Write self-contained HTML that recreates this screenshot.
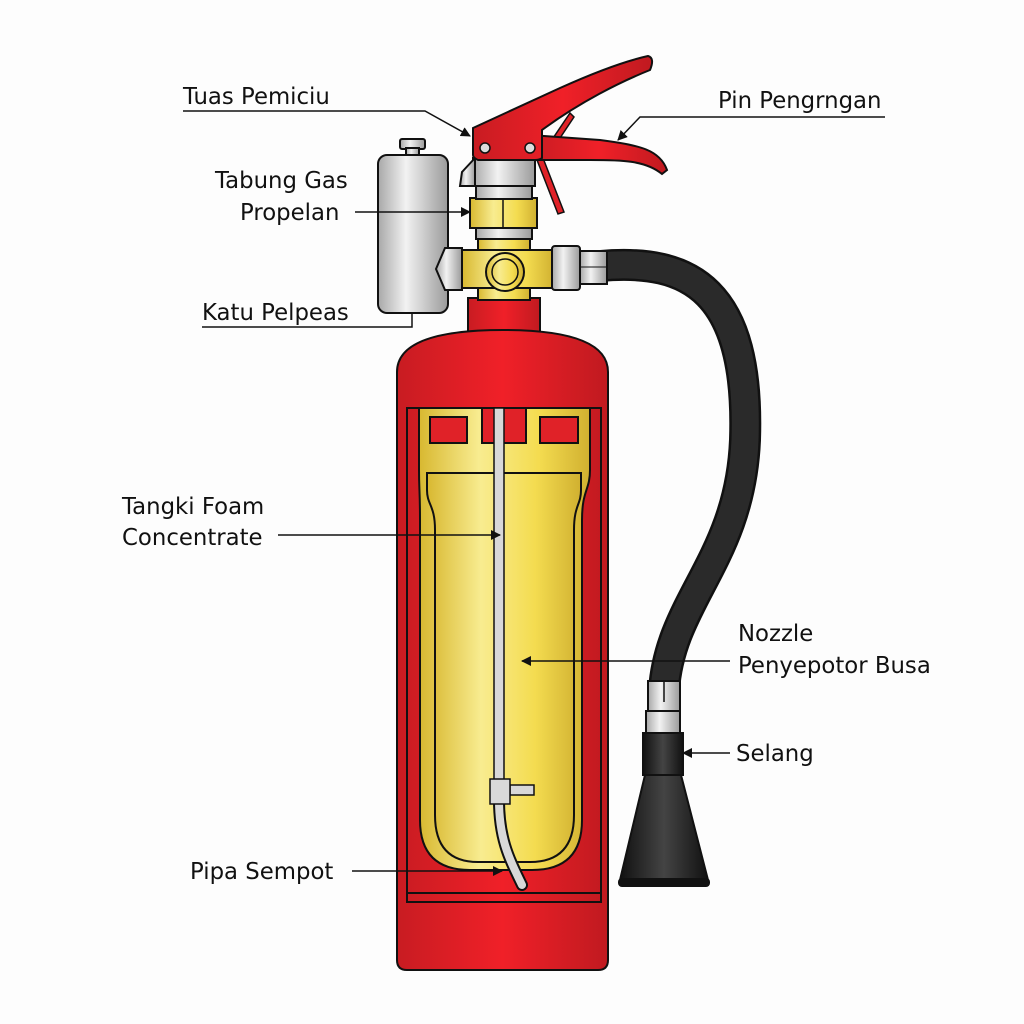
<!DOCTYPE html>
<html><head><meta charset="utf-8"><style>
html,body{margin:0;padding:0;background:#fdfdfd;}
svg{display:block;}
text{font-family:"DejaVu Sans","Liberation Sans",sans-serif;font-size:22.8px;fill:#111;}
</style></head><body>
<svg width="1024" height="1024" viewBox="0 0 1024 1024" xmlns="http://www.w3.org/2000/svg">
<defs>
<linearGradient id="red" x1="0" x2="1"><stop offset="0" stop-color="#c81c22"/><stop offset="0.5" stop-color="#f02028"/><stop offset="1" stop-color="#c01a20"/></linearGradient>
<linearGradient id="yel" x1="0" x2="1"><stop offset="0" stop-color="#d8b830"/><stop offset="0.35" stop-color="#f8ec90"/><stop offset="0.7" stop-color="#f4dc50"/><stop offset="1" stop-color="#d0b030"/></linearGradient>
<linearGradient id="gry" x1="0" x2="1"><stop offset="0" stop-color="#a8a8a8"/><stop offset="0.4" stop-color="#f2f2f2"/><stop offset="1" stop-color="#9a9a9a"/></linearGradient>
<linearGradient id="blk" x1="0" x2="1"><stop offset="0" stop-color="#111"/><stop offset="0.5" stop-color="#444"/><stop offset="1" stop-color="#111"/></linearGradient>
<marker id="ar" markerWidth="10" markerHeight="10" refX="9" refY="5" orient="auto" markerUnits="userSpaceOnUse"><path d="M0,0 L10,5 L0,10 z" fill="#111"/></marker>
</defs>

<!-- hose -->
<path d="M600,266 C690,258 750,290 745,440 C740,560 670,600 664,690" fill="none" stroke="#111" stroke-width="32"/>
<path d="M600,266 C690,258 750,290 745,440 C740,560 670,600 664,690" fill="none" stroke="#2a2a2a" stroke-width="27"/>
<!-- hose fittings / nozzle -->
<rect x="648" y="681" width="32" height="30" fill="url(#gry)" stroke="#111" stroke-width="2"/>
<line x1="664" y1="681" x2="664" y2="702" stroke="#111" stroke-width="1.5"/>
<rect x="646" y="711" width="34" height="23" fill="url(#gry)" stroke="#111" stroke-width="2"/>
<rect x="643" y="733" width="40" height="42" fill="url(#blk)" stroke="#111" stroke-width="2"/>
<path d="M645,775 L681,775 L708,880 L620,880 Z" fill="url(#blk)" stroke="#111" stroke-width="2"/>
<rect x="618" y="878" width="92" height="9" rx="4" fill="#111"/>

<!-- body -->
<rect x="468" y="298" width="72" height="36" fill="url(#red)" stroke="#111" stroke-width="2"/>
<path d="M397,372 C397,345 430,330 503,330 C576,330 608,345 608,372 L608,960 Q608,970 598,970 L407,970 Q397,970 397,960 Z" fill="url(#red)" stroke="#111" stroke-width="2"/>
<rect x="407" y="408" width="194" height="494" fill="none" stroke="#111" stroke-width="2"/>
<line x1="407" y1="893" x2="601" y2="893" stroke="#111" stroke-width="2"/>
<!-- yellow tank -->
<path d="M419,408 L590,408 L590,470 C590,490 582,490 582,520 L582,820 Q582,870 532,870 L470,870 Q420,870 420,820 L420,520 C420,490 419,490 419,470 Z" fill="url(#yel)" stroke="#111" stroke-width="2"/>
<path d="M427,473 L581,473 L581,490 C581,505 574,505 574,530 L574,815 Q574,862 530,862 L478,862 Q435,862 435,815 L435,530 C435,505 427,505 427,490 Z" fill="url(#yel)" stroke="#111" stroke-width="2"/>
<rect x="430" y="417" width="37" height="26" fill="#e02228" stroke="#111" stroke-width="2"/>
<rect x="482" y="408" width="44" height="35" fill="#e02228" stroke="#111" stroke-width="2"/>
<rect x="540" y="417" width="38" height="26" fill="#e02228" stroke="#111" stroke-width="2"/>
<!-- dip tube -->
<rect x="494" y="408" width="10" height="380" fill="#d8d8d8" stroke="#111" stroke-width="1.5"/>
<path d="M499,800 C499,840 510,860 522,885" fill="none" stroke="#111" stroke-width="12" stroke-linecap="round"/>
<path d="M499,800 C499,840 510,860 522,885" fill="none" stroke="#d8d8d8" stroke-width="8" stroke-linecap="round"/>
<rect x="510" y="785" width="24" height="10" fill="#d8d8d8" stroke="#111" stroke-width="1.5"/>
<rect x="490" y="779" width="20" height="25" fill="#d8d8d8" stroke="#111" stroke-width="1.5"/>

<!-- gas cylinder -->
<rect x="400" y="139" width="25" height="10" rx="2" fill="url(#gry)" stroke="#111" stroke-width="2"/>
<rect x="406" y="148" width="13" height="8" fill="url(#gry)" stroke="#111" stroke-width="2"/>
<rect x="378" y="155" width="70" height="158" rx="9" fill="url(#gry)" stroke="#111" stroke-width="2"/>
<line x1="378" y1="212" x2="448" y2="212" stroke="#111" stroke-width="1"/>
<!-- valve assembly -->
<path d="M445,248 L462,248 L462,290 L445,290 L436,269 Z" fill="url(#gry)" stroke="#111" stroke-width="2"/>
<rect x="478" y="238" width="52" height="62" fill="url(#yel)" stroke="#111" stroke-width="2"/>
<rect x="462" y="250" width="92" height="38" fill="url(#yel)" stroke="#111" stroke-width="2"/>
<circle cx="505" cy="272" r="19" fill="url(#yel)" stroke="#111" stroke-width="2"/>
<circle cx="505" cy="272" r="13" fill="none" stroke="#111" stroke-width="1.5"/>
<rect x="552" y="246" width="28" height="44" rx="3" fill="url(#gry)" stroke="#111" stroke-width="2"/>
<rect x="580" y="251" width="27" height="33" fill="url(#gry)" stroke="#111" stroke-width="2"/>
<line x1="580" y1="267" x2="607" y2="267" stroke="#111" stroke-width="1"/>
<rect x="476" y="227" width="56" height="12" fill="url(#gry)" stroke="#111" stroke-width="2"/>
<rect x="470" y="198" width="67" height="30" fill="url(#yel)" stroke="#111" stroke-width="2"/>
<line x1="503" y1="198" x2="503" y2="228" stroke="#111" stroke-width="1.5"/>
<rect x="476" y="185" width="56" height="14" fill="url(#gry)" stroke="#111" stroke-width="2"/>
<rect x="473" y="158" width="62" height="28" fill="url(#gry)" stroke="#111" stroke-width="2"/>
<path d="M462,172 L475,158 L475,186 L460,186 Z" fill="url(#gry)" stroke="#111" stroke-width="2"/>
<!-- pin -->
<path d="M545,150 L570,113 L574,117 L550,153 Z" fill="#e02228" stroke="#111" stroke-width="1.5"/>
<path d="M537,160 L543,158 L564,212 L558,214 Z" fill="#e02228" stroke="#111" stroke-width="1.5"/>
<!-- lower lever -->
<path d="M530,135 L600,140 C640,145 660,150 667,170 L662,174 C645,160 620,160 590,160 L530,160 Z" fill="url(#red)" stroke="#111" stroke-width="2"/>
<!-- upper lever -->
<path d="M473,128 L560,88 C600,70 630,60 648,56 Q655,58 650,70 C620,82 580,102 542,130 L542,158 Q540,160 535,160 L478,160 Q473,158 473,155 Z" fill="url(#red)" stroke="#111" stroke-width="2"/>
<circle cx="485" cy="148" r="5" fill="#ddd" stroke="#111" stroke-width="1.5"/>
<circle cx="530" cy="148" r="5" fill="#ddd" stroke="#111" stroke-width="1.5"/>

<!-- labels & leaders -->
<g stroke="#111" stroke-width="1.5" fill="none">
<path d="M183,111 L425,111 L470,136" marker-end="url(#ar)"/>
<path d="M885,117 L640,117 L618,140" marker-end="url(#ar)"/>
<path d="M355,212 L470,212" marker-end="url(#ar)"/>
<path d="M202,327 L412,327 L412,313"/>
<path d="M278,535 L500,535" marker-end="url(#ar)"/>
<path d="M730,661 L522,661" marker-end="url(#ar)"/>
<path d="M730,753 L683,753" marker-end="url(#ar)"/>
<path d="M352,871 L502,871" marker-end="url(#ar)"/>
</g>
<text x="183" y="104">Tuas Pemiciu</text>
<text x="718" y="108">Pin Pengrngan</text>
<text x="215" y="188">Tabung Gas</text>
<text x="240" y="220">Propelan</text>
<text x="202" y="320">Katu Pelpeas</text>
<text x="122" y="514">Tangki Foam</text>
<text x="122" y="545">Concentrate</text>
<text x="738" y="641">Nozzle</text>
<text x="738" y="673">Penyepotor Busa</text>
<text x="736" y="761">Selang</text>
<text x="190" y="879">Pipa Sempot</text>
</svg>
</body></html>
